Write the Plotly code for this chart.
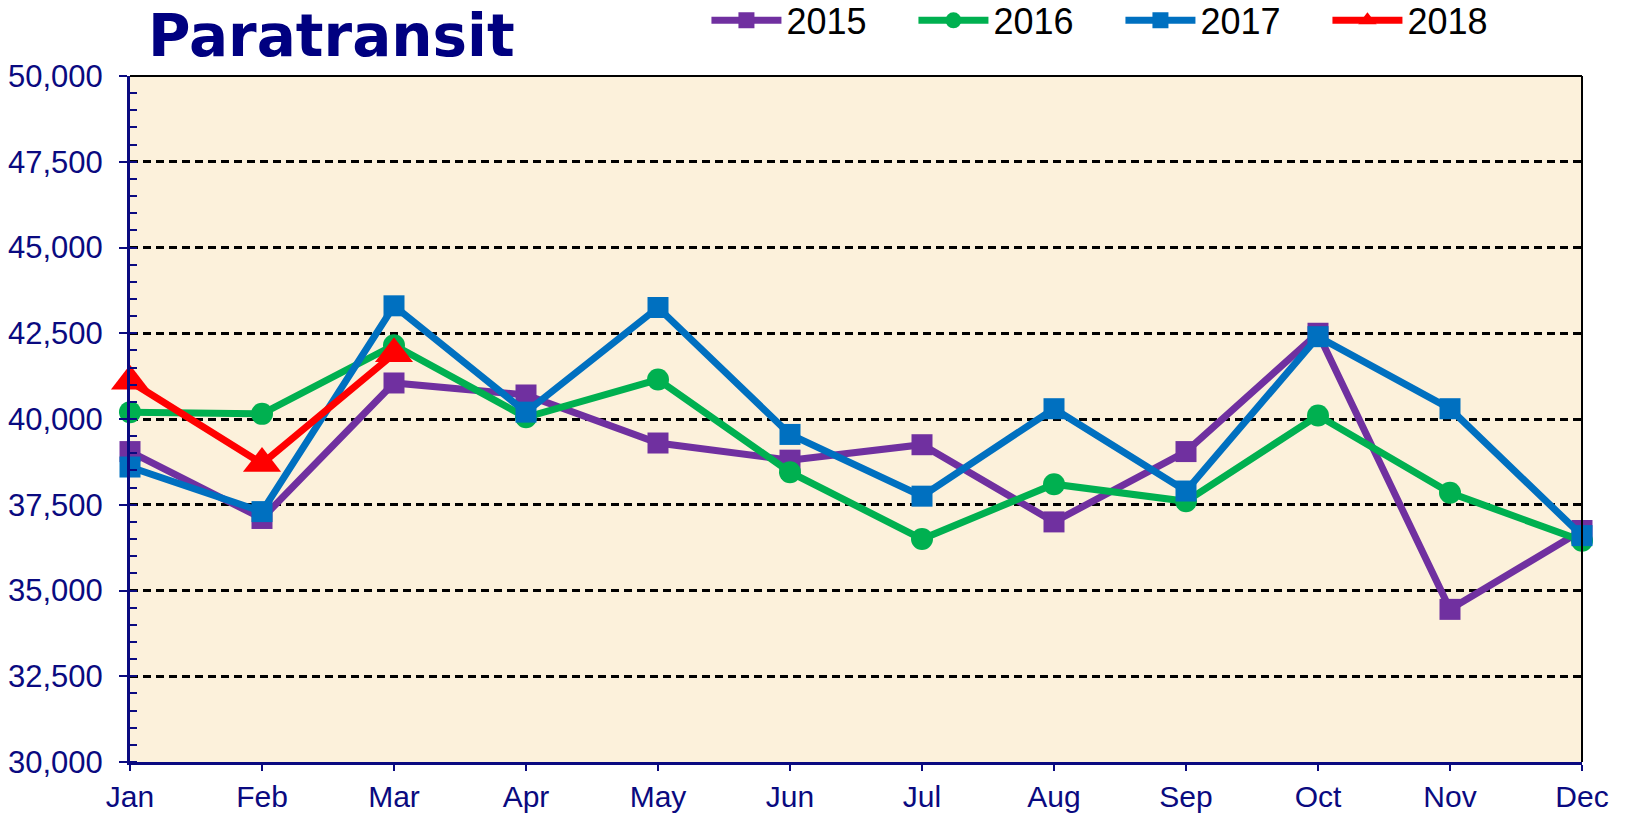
import plotly.graph_objects as go

months = ["Jan", "Feb", "Mar", "Apr", "May", "Jun", "Jul", "Aug", "Sep", "Oct", "Nov", "Dec"]
y2015 = [39050, 37100, 41050, 40700, 39300, 38800, 39250, 37000, 39050, 42500, 34450, 36750]
y2016 = [40200, 40150, 42150, 40050, 41150, 38450, 36500, 38100, 37600, 40100, 37850, 36450]
y2017 = [38600, 37300, 43300, 40200, 43250, 39550, 37750, 40300, 37900, 42400, 40300, 36600]
y2018 = [41100, 38700, 41900]
ytick_vals = [30000, 32500, 35000, 37500, 40000, 42500, 45000, 47500, 50000]

series = [
    ("2015", y2015, "#7030A0", "square", 21),
    ("2016", y2016, "#00B050", "circle", 22),
    ("2017", y2017, "#0070C0", "square", 21),
    ("2018", y2018, "#FF0000", "triangle-up", 33),
]

fig = go.Figure()
for name, vals, color, sym, size in series:
    fig.add_trace(go.Scatter(
        x=months[:len(vals)], y=vals, name=name, mode="lines+markers",
        line=dict(color=color, width=7),
        marker=dict(symbol=sym, size=size, color=color),
        cliponaxis=False,
    ))

navy = "#0A0A80"
fig.update_layout(
    width=1626, height=813,
    margin=dict(l=130, r=44, t=76, b=51, autoexpand=False),
    paper_bgcolor="white",
    plot_bgcolor="#FCF1DB",
    font=dict(family="Arial, Liberation Sans", color=navy),
    showlegend=True,
    legend=dict(
        orientation="h", x=0.397, y=1.081, xanchor="left", yanchor="middle",
        font=dict(family="Liberation Sans Narrow, Arial, Liberation Sans", size=36, color="black"),
        bgcolor="rgba(0,0,0,0)", entrywidth=122, itemwidth=70,
        traceorder="normal",
    ),
    annotations=[dict(
        text="<b>Paratransit</b>", xref="paper", yref="paper", x=0.139, y=1.058,
        xanchor="center", yanchor="middle", showarrow=False,
        font=dict(family="DejaVu Sans", size=58, color="#000080"),
    )],
    shapes=[
        dict(type="line", xref="paper", yref="paper", x0=0, x1=1, y0=1, y1=1,
             line=dict(color="black", width=2)),
        dict(type="line", xref="paper", yref="paper", x0=1, x1=1, y0=0, y1=1,
             line=dict(color="black", width=2)),
    ],
)
fig.update_xaxes(
    type="category", categoryorder="array", categoryarray=months,
    range=[0, 11], showgrid=False, zeroline=False,
    showline=True, linecolor=navy, linewidth=3,
    ticks="outside", ticklen=6, tickwidth=2, tickcolor=navy,
    tickfont=dict(size=30, color=navy), ticklabelstandoff=0,
)
fig.update_yaxes(
    range=[30000, 50000], tickvals=ytick_vals, tickformat=",",
    showgrid=True, gridcolor="black", griddash="8px,5px", gridwidth=2.5,
    zeroline=False, showline=True, linecolor=navy, linewidth=3,
    ticks="outside", ticklen=8, tickwidth=2, tickcolor=navy,
    tickfont=dict(size=31, color=navy), ticklabelstandoff=10,
    minor=dict(dtick=500, ticks="inside", ticklen=7, tickwidth=2, tickcolor=navy, showgrid=False),
)

fig.write_html("out.html", config={"displayModeBar": False},
               post_script="document.body.style.margin='0px';")
